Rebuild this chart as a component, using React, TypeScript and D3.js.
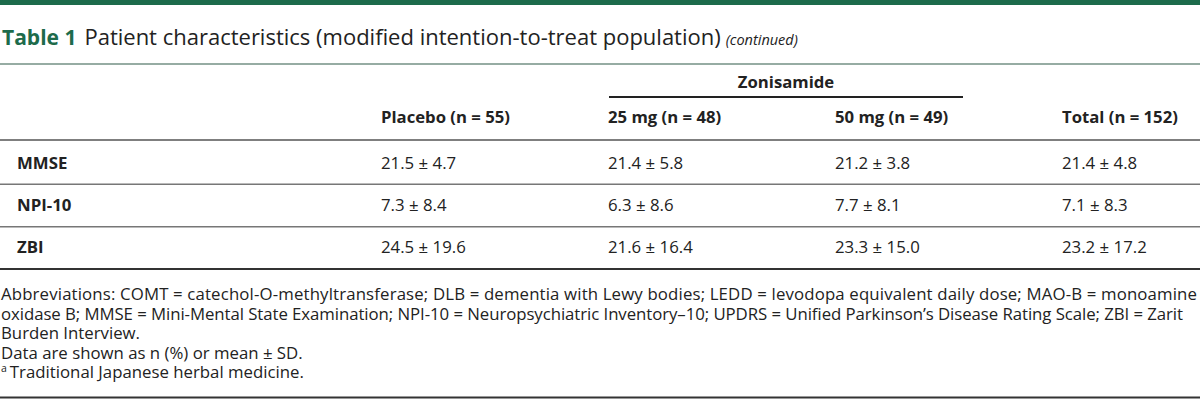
import React from "react";
import * as d3 from "d3";

const columns = ["Placebo (n = 55)", "25 mg (n = 48)", "50 mg (n = 49)", "Total (n = 152)"];
const groupLabel = "Zonisamide";
const rowLabels = ["MMSE", "NPI-10", "ZBI"];
const placeboMean = [21.5, 7.3, 24.5];
const placeboSD = [4.7, 8.4, 19.6];
const zon25Mean = [21.4, 6.3, 21.6];
const zon25SD = [5.8, 8.6, 16.4];
const zon50Mean = [21.2, 7.7, 23.3];
const zon50SD = [3.8, 8.1, 15.0];
const totalMean = [21.4, 7.1, 23.2];
const totalSD = [4.8, 8.3, 17.2];

const footnotes = [
  "Abbreviations: COMT = catechol-O-methyltransferase; DLB = dementia with Lewy bodies; LEDD = levodopa equivalent daily dose; MAO-B = monoamine",
  "oxidase B; MMSE = Mini-Mental State Examination; NPI-10 = Neuropsychiatric Inventory\u201310; UPDRS = Unified Parkinson\u2019s Disease Rating Scale; ZBI = Zarit",
  "Burden Interview.",
  "Data are shown as n (%) or mean \u00b1 SD.",
];
const footnoteWidths = [1196, 1182];
const footnoteA = "Traditional Japanese herbal medicine.";

const W = 1200;
const H = 401;
const GREEN = "#1d6b4b";
const TEXT = "#222";
const FONT = "'Open Sans', 'Noto Sans', sans-serif";

export default function App() {
  const means = [placeboMean, zon25Mean, zon50Mean, totalMean];
  const sds = [placeboSD, zon25SD, zon50SD, totalSD];
  const x = d3.scaleLinear().domain([0, 1]).range([381, 608]);
  const y = d3.scaleBand().domain(rowLabels).range([142, 269]);
  const fy = d3.scaleLinear().domain([0, 1]).range([300, 319.5]);
  const fmt = d3.format(".1f");

  return (
    <div style={{ position: "absolute", left: 0, top: 0 }}>
      <svg width={W} height={H} style={{ display: "block", fontFamily: FONT }}>
        <rect x={0} y={0} width={W} height={H} fill="#fff" />
        <rect x={0} y={0} width={W} height={5} fill={GREEN} />
        <text x={2} y={45} fontSize={22} fill={TEXT}>
          <tspan fontWeight={700} fill={GREEN} fontSize={21}>Table 1</tspan>
          <tspan dx={8}>Patient characteristics (modified intention-to-treat population)</tspan>
          <tspan dx={5} fontStyle="italic" fontSize={14.5}>(continued)</tspan>
        </text>
        <line x1={0} x2={W} y1={64} y2={64} stroke="#2f5a48" strokeWidth={1.2} />
        <text x={(609 + 963) / 2} y={88} textAnchor="middle" fontSize={16.7} fontWeight={700} fill={TEXT}>
          {groupLabel}
        </text>
        <line x1={609} x2={963} y1={97} y2={97} stroke="#222" strokeWidth={2} />
        {columns.map((c, i) => (
          <text key={c} x={x(i)} y={122.5} fontSize={16.7} fontWeight={700} fill={TEXT}>
            {c}
          </text>
        ))}
        <line x1={0} x2={W} y1={140} y2={140} stroke="#555" strokeWidth={1.5} />
        {rowLabels.map((r, ri) => (
          <g key={r}>
            <text x={17} y={(y(r) as number) + 26.5} fontSize={16.8} fontWeight={700} fill={TEXT}>
              {r}
            </text>
            {means.map((m, ci) => (
              <text key={ci} x={x(ci)} y={(y(r) as number) + 26.5} fontSize={16.8} fill={TEXT}>
                {fmt(m[ri])} ± {fmt(sds[ci][ri])}
              </text>
            ))}
            {ri < rowLabels.length - 1 && (
              <line x1={0} x2={W} y1={(y(r) as number) + y.bandwidth()} y2={(y(r) as number) + y.bandwidth()} stroke="#777" strokeWidth={1.5} />
            )}
          </g>
        ))}
        <line x1={0} x2={W} y1={269} y2={269} stroke="#333" strokeWidth={2} />
        {footnotes.map((f, i) => (
          <text
            key={i}
            x={1}
            y={fy(i)}
            fontSize={16.8}
            fill={TEXT}
            {...(footnoteWidths[i] ? { textLength: footnoteWidths[i], lengthAdjust: "spacing" } : {})}
          >
            {f}
          </text>
        ))}
        <text x={1} y={fy(footnotes.length)} fontSize={16.8} fill={TEXT}>
          <tspan fontSize={10.5} dy={-6}>a</tspan>
          <tspan dy={6} dx={3}>{footnoteA}</tspan>
        </text>
        <line x1={0} x2={W} y1={397.5} y2={397.5} stroke="#333" strokeWidth={2} />
      </svg>
    </div>
  );
}
